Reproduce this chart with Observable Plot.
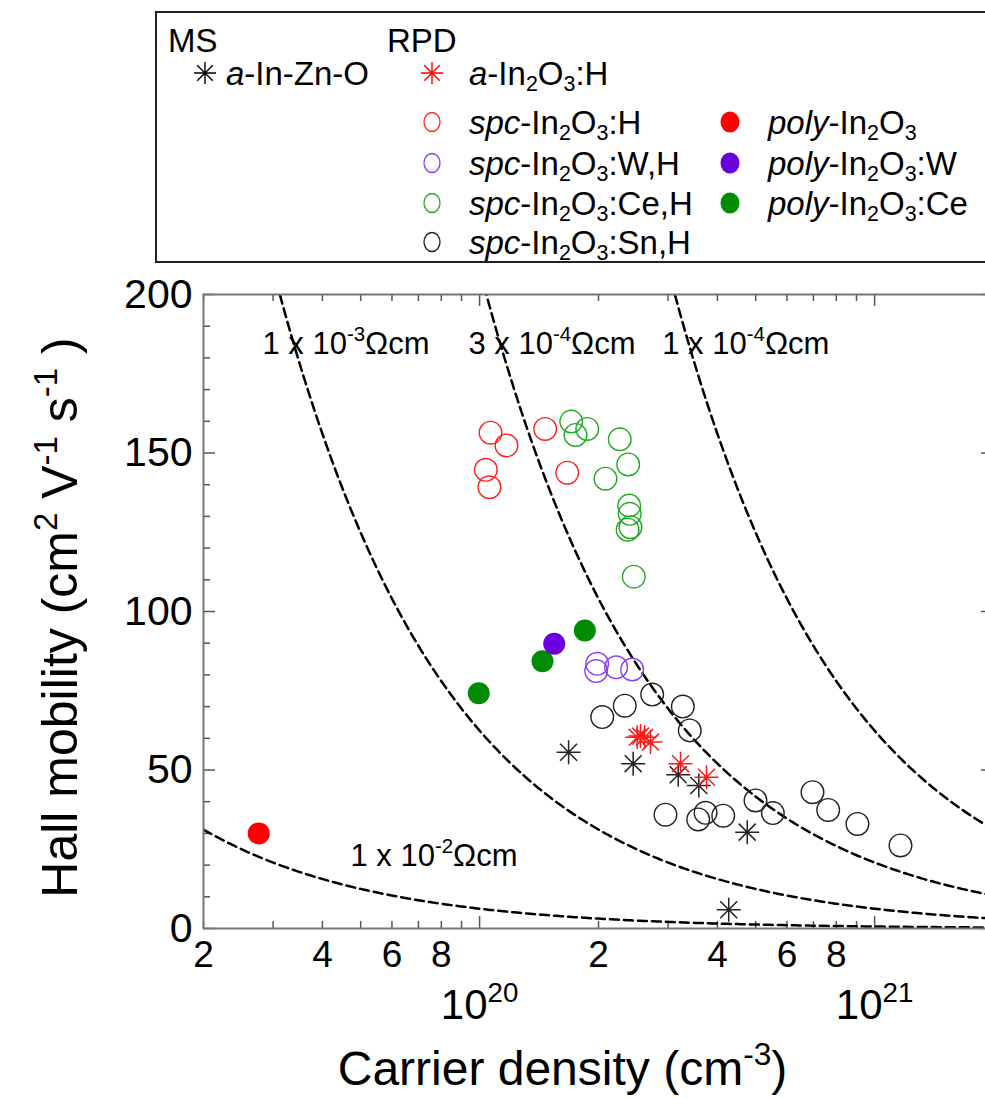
<!DOCTYPE html>
<html><head><meta charset="utf-8">
<script src="https://cdn.jsdelivr.net/npm/d3@7"></script>
<script src="https://cdn.jsdelivr.net/npm/@observablehq/plot@0.6"></script>
<style>
html,body{margin:0;padding:0;overflow:hidden;background:#fff;}
#wrap{position:relative;width:985px;height:1098px;overflow:hidden;font-family:"Liberation Sans",Arial,sans-serif;}
#chart{position:absolute;left:0;top:0;width:993px;}
#chart svg{max-width:none !important;}
#legend{position:absolute;left:155px;top:11px;width:860px;height:252px;border:2px solid #222;box-sizing:border-box;}
.lt{position:absolute;font-size:33px;line-height:33px;white-space:nowrap;color:#000;}
.lt sub{font-size:0.65em;vertical-align:-0.28em;line-height:0;}
.mk{position:absolute;overflow:visible;}
</style></head>
<body><div id="wrap"><div id="chart"></div><div id="legend"></div></div>
<script>
// ---------------- data (carrier density cm^-3, Hall mobility cm2/Vs) ----------------
const aInZnO   = [[1.68e20,55.6],[2.448e20,52.0],[3.183e20,48.5],[3.589e20,45.1],[4.759e20,30.4],[4.273e20,5.9]];
const aInH     = [[2.506e20,60.3],[2.555e20,60.7],[2.616e20,60.3],[2.708e20,58.8],[3.226e20,52.0],[3.754e20,47.7]];
const spcInH   = [[1.066e20,156.4],[1.17e20,152.4],[1.037e20,144.7],[1.059e20,139.2],[1.466e20,157.6],[1.667e20,143.8]];
const spcInWH  = [[1.985e20,83.5],[1.973e20,81.2],[2.217e20,82.4],[2.434e20,81.7]];
const spcInCeH = [[1.706e20,159.9],[1.873e20,157.6],[1.749e20,155.7],[2.264e20,154.3],[2.378e20,146.4],[2.083e20,141.9],
                  [2.392e20,133.4],[2.40e20,130.8],[2.41e20,126.6],[2.37e20,125.8],[2.457e20,111.0]];
const spcInSnH = [[2.044e20,66.7],[2.331e20,70.3],[2.735e20,73.8],[3.27e20,70.0],[3.405e20,62.5],[2.955e20,35.9],
                  [3.577e20,34.4],[3.733e20,36.5],[4.138e20,35.6],[4.995e20,40.4],[5.526e20,36.4],[6.963e20,43.0],
                  [7.63e20,37.4],[9.05e20,33.0],[1.163e21,26.2]];
const polyIn   = [[2.76e19,30.0]];
const polyInW  = [[1.545e20,89.8]];
const polyInCe = [[1.847e20,94.0],[1.443e20,84.3],[9.95e19,74.2]];

// iso-resistivity lines (ohm cm) and their labels
const rhoValues = [1e-2, 1e-3, 3e-4, 1e-4];
const rhoLabels = ["1 x 10^{-2}\u03A9cm", "1 x 10^{-3}\u03A9cm", "3 x 10^{-4}\u03A9cm", "1 x 10^{-4}\u03A9cm"];
const rhoLabelN  = [4.71e19, 2.82e19, 9.37e19, 2.90e20];
const rhoLabelMu = [22.7, 184.5, 184.5, 184.5];

// axes
const yMajorTicks = [0, 50, 100, 150, 200];
const yMinorTicks = [10,20,30,40,60,70,80,90,110,120,130,140,160,170,180,190];
const xMinorTicks = [2e19,3e19,4e19,5e19,6e19,7e19,8e19,9e19,2e20,3e20,4e20,5e20,6e20,7e20,8e20,9e20];
const xMajorTicks = [1e20, 1e21];
const xMinorLabelVals = [2e19,4e19,6e19,8e19,2e20,4e20,6e20,8e20];
const xMinorLabels = ["2","4","6","8","2","4","6","8"];
const xMajorLabels = ["10^{20}", "10^{21}"];
const xTitle = "Carrier density (cm^{-3})";
const yTitle = "Hall mobility (cm^{2} V^{-1} s^{-1} )";

// legend
const legendHeads = [{t:"MS", x:168, y:40}, {t:"RPD", x:387, y:40}];
const legendItems = [
  {sym:"ast",    color:"#000",    x:205, y:73,  tx:226, html:"<i>a</i>-In-Zn-O"},
  {sym:"ast",    color:"#ff0000", x:432, y:73,  tx:469, html:"<i>a</i>-In<sub>2</sub>O<sub>3</sub>:H"},
  {sym:"open",   color:"#ff2a2a", x:432, y:122, tx:469, html:"<i>spc</i>-In<sub>2</sub>O<sub>3</sub>:H"},
  {sym:"open",   color:"#8a3ff0", x:432, y:163, tx:469, html:"<i>spc</i>-In<sub>2</sub>O<sub>3</sub>:W,H"},
  {sym:"open",   color:"#2aaa2a", x:432, y:203, tx:469, html:"<i>spc</i>-In<sub>2</sub>O<sub>3</sub>:Ce,H"},
  {sym:"open",   color:"#222",    x:432, y:242, tx:469, html:"<i>spc</i>-In<sub>2</sub>O<sub>3</sub>:Sn,H"},
  {sym:"filled", color:"#ff0000", x:730, y:122, tx:768, html:"<i>poly</i>-In<sub>2</sub>O<sub>3</sub>"},
  {sym:"filled", color:"#6a00dc", x:730, y:163, tx:768, html:"<i>poly</i>-In<sub>2</sub>O<sub>3</sub>:W"},
  {sym:"filled", color:"#008c00", x:730, y:203, tx:768, html:"<i>poly</i>-In<sub>2</sub>O<sub>3</sub>:Ce"}
];

// ---------------- chart ----------------
const W = 993, H = 1098, ML = 203, MR = 0, MT = 294, MB = 170;
const PW = W - ML - MR, PH = H - MT - MB;
const q = 1.602e-19;
const nGrid = d3.range(0, 301).map(i => 2e19 * Math.pow(100, i / 300));
const curves = rhoValues.flatMap(rho => nGrid.map(n => ({rho, n, mu: 1 / (q * n * rho)})));
const curveLabels = rhoLabels.map((label, i) => ({label, n: rhoLabelN[i], mu: rhoLabelMu[i]}));

const asterisk8 = {
  draw(context, size) {
    const r = Math.sqrt(size / Math.PI);
    const d = r * Math.SQRT1_2;
    context.moveTo(-r, 0); context.lineTo(r, 0);
    context.moveTo(0, -r); context.lineTo(0, r);
    context.moveTo(-d, -d); context.lineTo(d, d);
    context.moveTo(-d, d); context.lineTo(d, -d);
  }
};
const X = d => d[0], Y = d => d[1];

const chart = Plot.plot({
  width: W, height: H,
  marginLeft: ML, marginRight: MR, marginTop: MT, marginBottom: MB,
  style: {fontFamily: "'Liberation Sans', Arial, sans-serif", background: "transparent", overflow: "visible", color: "#000", maxWidth: "none"},
  x: {type: "log", domain: [2e19, 2e21], axis: null},
  y: {domain: [0, 200], axis: null},
  marks: [
    // ticks (inward)
    Plot.tickY(yMinorTicks, {y: d => d, insetRight: PW - 7, stroke: "#555", strokeWidth: 1.5}),
    Plot.tickY(yMajorTicks, {y: d => d, insetRight: PW - 12, stroke: "#555", strokeWidth: 1.5}),
    Plot.tickY(yMinorTicks, {y: d => d, insetLeft: PW - 7, stroke: "#555", strokeWidth: 1.5}),
    Plot.tickY(yMajorTicks, {y: d => d, insetLeft: PW - 12, stroke: "#555", strokeWidth: 1.5}),
    Plot.tickX(xMinorTicks, {x: d => d, insetTop: PH - 7, stroke: "#555", strokeWidth: 1.5}),
    Plot.tickX(xMajorTicks, {x: d => d, insetTop: PH - 12, stroke: "#555", strokeWidth: 1.5}),
    Plot.tickX(xMinorTicks, {x: d => d, insetBottom: PH - 7, stroke: "#555", strokeWidth: 1.5}),
    Plot.tickX(xMajorTicks, {x: d => d, insetBottom: PH - 12, stroke: "#555", strokeWidth: 1.5}),
    // iso-resistivity curves
    Plot.line(curves, {x: "n", y: "mu", z: "rho", stroke: "#000", strokeWidth: 2.5, strokeDasharray: "9,5", clip: true}),
    Plot.text(curveLabels, {x: "n", y: "mu", text: "label", textAnchor: "start", fontSize: 31, fill: "#000"}),
    // data
    Plot.dot(spcInH,   {x: X, y: Y, r: 11.3, stroke: "#ff2020", strokeWidth: 1.4, fill: "none"}),
    Plot.dot(spcInCeH, {x: X, y: Y, r: 11.3, stroke: "#22a822", strokeWidth: 1.4, fill: "none"}),
    Plot.dot(spcInWH,  {x: X, y: Y, r: 11.3, stroke: "#8a3ff0", strokeWidth: 1.4, fill: "none"}),
    Plot.dot(spcInSnH, {x: X, y: Y, r: 11.3, stroke: "#222", strokeWidth: 1.4, fill: "none"}),
    Plot.dot(polyInCe, {x: X, y: Y, r: 11, fill: "#008c00"}),
    Plot.dot(polyInW,  {x: X, y: Y, r: 11, fill: "#6a00dc"}),
    Plot.dot(polyIn,   {x: X, y: Y, r: 11, fill: "#ff0000"}),
    Plot.dot(aInZnO,   {x: X, y: Y, r: 12, symbol: asterisk8, stroke: "#222", strokeWidth: 1.5, fill: "none"}),
    Plot.dot(aInH,     {x: X, y: Y, r: 12, symbol: asterisk8, stroke: "#ff1a1a", strokeWidth: 1.5, fill: "none"}),
    // frame
    Plot.frame({stroke: "#777", strokeWidth: 2}),
    // tick labels
    Plot.text(yMajorTicks, {y: d => d, text: d => String(d), frameAnchor: "left", textAnchor: "end", dx: -11, fontSize: 41, fill: "#000"}),
    Plot.text(xMinorLabelVals, {x: d => d, text: (d, i) => xMinorLabels[i], frameAnchor: "bottom", textAnchor: "middle", dy: 38, fontSize: 37, fill: "#000"}),
    Plot.text(xMajorTicks, {x: d => d, text: (d, i) => xMajorLabels[i], frameAnchor: "bottom", textAnchor: "middle", dy: 90, fontSize: 42, fill: "#000"}),
    // axis titles
    Plot.text([xTitle], {frameAnchor: "bottom-left", dx: 359, dy: 156, textAnchor: "middle", fontSize: 48, fill: "#000"}),
    Plot.text([yTitle], {frameAnchor: "left", dx: -143, dy: 6, rotate: -90, textAnchor: "middle", fontSize: 50, fill: "#000"})
  ]
});
document.getElementById("chart").appendChild(chart);

// superscripts: "^{...}" -> raised tspans
chart.querySelectorAll("text").forEach(t => {
  const s = t.textContent;
  if (!s.includes("^{")) return;
  while (t.firstChild) t.removeChild(t.firstChild);
  for (const p of s.split(/(\^\{[^}]*\})/)) {
    if (!p) continue;
    const ts = document.createElementNS("http://www.w3.org/2000/svg", "tspan");
    if (p.startsWith("^{")) {
      ts.textContent = p.slice(2, -1);
      ts.setAttribute("font-size", "0.66em");
      ts.setAttribute("baseline-shift", "0.62em");
    } else ts.textContent = p;
    t.appendChild(ts);
  }
});

// ---------------- legend ----------------
const wrap = document.getElementById("wrap");
const NS = "http://www.w3.org/2000/svg";
function addText(html, x, cy) {
  const d = document.createElement("div");
  d.className = "lt"; d.innerHTML = html;
  d.style.left = x + "px"; d.style.top = (cy - 16.5) + "px";
  wrap.appendChild(d);
}
legendHeads.forEach(h => addText(h.t, h.x, h.y));
legendItems.forEach(it => {
  const s = document.createElementNS(NS, "svg");
  s.setAttribute("class", "mk"); s.setAttribute("width", 30); s.setAttribute("height", 30);
  s.style.left = (it.x - 15) + "px"; s.style.top = (it.y - 15) + "px";
  const g = document.createElementNS(NS, "g"); g.setAttribute("transform", "translate(15,15)");
  let el = document.createElementNS(NS, "path");
  if (it.sym === "ast") {
    const r = 11, dd = r * Math.SQRT1_2;
    el.setAttribute("d", `M${-r},0L${r},0M0,${-r}L0,${r}M${-dd},${-dd}L${dd},${dd}M${-dd},${dd}L${dd},${-dd}`);
    el.setAttribute("stroke", it.color); el.setAttribute("stroke-width", 1.4); el.setAttribute("fill", "none");
  } else {
    el = document.createElementNS(NS, "ellipse");
    if (it.sym === "open") {
      el.setAttribute("rx", 8); el.setAttribute("ry", 9.5);
      el.setAttribute("fill", "none"); el.setAttribute("stroke", it.color); el.setAttribute("stroke-width", 1.3);
    } else {
      el.setAttribute("rx", 9.5); el.setAttribute("ry", 10.5);
      el.setAttribute("fill", it.color);
    }
  }
  g.appendChild(el); s.appendChild(g); wrap.appendChild(s);
  addText(it.html, it.tx, it.y);
});
</script></body></html>
